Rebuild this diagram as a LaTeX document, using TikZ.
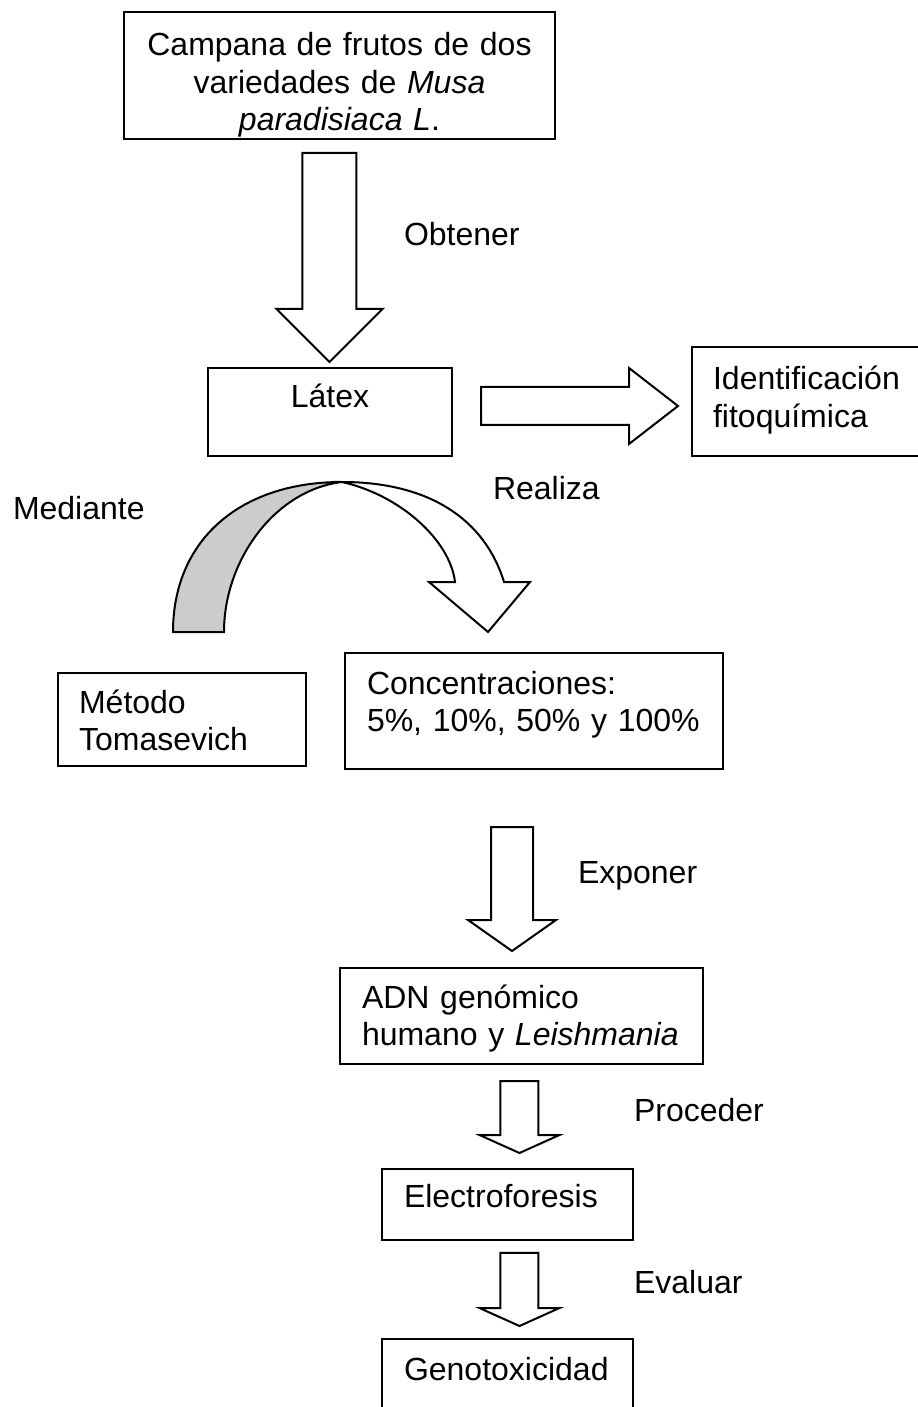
\documentclass[tikz,border=0pt]{standalone}
\usepackage{fontspec}
\setmainfont{Liberation Sans}
\usetikzlibrary{calc,
                positioning}

% hollow block arrow going down: top, tip, shaft half, head half, head length
\newcommand{\blockdown}[5]{%
    \path #1 coordinate (ba-top) #2 coordinate (ba-tip);
    \draw [blockarrow]
    ($(ba-top)+(-#3,0)$) -- ($(ba-top)+(#3,0)$)
    -- ($(ba-top |- ba-tip)+(#3,-#5)$) -- ($(ba-top |- ba-tip)+(#4,-#5)$)
    -- (ba-top |- ba-tip)
    -- ($(ba-top |- ba-tip)+(-#4,-#5)$) -- ($(ba-top |- ba-tip)+(-#3,-#5)$)
    -- cycle;}

\begin{document}
\begin{tikzpicture}[
            x = 0.375pt, y = -0.375pt,
            line width = 0.75pt,
            box/.style = {draw, anchor=north west, inner ysep=0pt, outer sep=0pt,
                    font=\fontsize{12pt}{14pt}\selectfont},
            lbox/.style = {box, align=left, inner xsep=8.25pt},
            cbox/.style = {box, align=center, inner xsep=0pt},
            tag/.style = {anchor=base west, inner sep=0pt,
                    font=\fontsize{12pt}{14pt}\selectfont},
            blockarrow/.style = {draw, fill=white, line join=miter},
            ribbon/.style = {draw, fill=black!20}]

        \useasboundingbox (0,0) rectangle (917,1407);

        \node [cbox, text width=161.6pt, text height=16.5pt, text depth=31.1pt]
              (cam) at (124,12) {Campana de frutos de dos\\ variedades de \textit{Musa}\\ \textit{paradisiaca L}.};
        \node [cbox, text width=91.5pt, text height=15pt, text depth=18pt]
              (lat) at (208,368) {Látex};
        \node [lbox, inner xsep=7.9pt, text width=81.7pt, text height=16.1pt, text depth=24.75pt]
              (idf) at (692,347) {Identificación\\ fitoquímica};
        \node [lbox, inner xsep=7.9pt, text width=77.2pt, text height=15pt, text depth=19.9pt]
              (met) at (58,673) {Método\\ Tomasevich};
        \node [lbox, text width=125.25pt, text height=15.4pt, text depth=28.1pt]
              (con) at (345,653) {Concentraciones:\\ \mbox{5\%, 10\%, 50\% y 100\%}};
        \node [lbox, text width=119.6pt, text height=15pt, text depth=21pt]
              (adn) at (340,968) {ADN genómico\\ \mbox{humano y \textit{Leishmania}}};
        \node [lbox, text width=77.6pt, text height=14.6pt, text depth=12pt]
              (ele) at (382,1169) {Electroforesis};
        \node [lbox, text width=77.6pt, text height=15.4pt, text depth=12pt]
              (gen) at (382,1339) {\mbox{Genotoxicidad}};

        % labels
        \node [tag] (obt) at (403,246)  {Obtener};
        \node [tag] (rea) at (492,500)  {Realiza};
        \node [tag] (med) at (12,520)   {Mediante};
        \node [tag] (exp) at (577,883)  {Exponer};
        \node [tag] (pro) at (633,1121) {Proceder};
        \node [tag] (eva) at (633,1293) {Evaluar};

        % block arrows
        \blockdown{($(cam.south)+(-10,14)$)}{($(lat.north)+(-1,-6)$)}{27}{53}{53}
        \blockdown{($(con.south)+(-22,58)$)}{($(adn.north)+(-10,-17)$)}{21}{44}{31}
        \blockdown{($(adn.south)+(-2,17)$)}{($(ele.north)+(12,-16)$)}{19}{40}{18}
        \blockdown{($(ele.south)+(12,13)$)}{($(gen.north)+(12,-13)$)}{19}{40}{18}

        \path ($(lat.east)+(29,-6)$) coordinate (ra-s)
              ($(idf.west)+(-14,0)$) coordinate (ra-t);
        \draw [blockarrow]
        ($(ra-s)+(0,-19)$) -- ($(ra-t |- ra-s)+(-49,-19)$)
        -- ($(ra-t |- ra-s)+(-49,-38)$) -- (ra-t |- ra-s)
        -- ($(ra-t |- ra-s)+(-49,38)$) -- ($(ra-t |- ra-s)+(-49,19)$)
        -- ($(ra-s)+(0,19)$) -- cycle;

        % curved arrow
        \draw [ribbon] (173,632) .. controls (173,540) and (240,482) .. (342,482)
        .. controls (275,490) and (224,560) .. (224,632) -- cycle;
        \draw [blockarrow] (342,482) .. controls (430,482) and (485,520) .. (504,582)
        -- (530,582) -- (488,632) -- (429,582) -- (455,582)
        .. controls (450,540) and (400,495) .. (342,482) -- cycle;
    \end{tikzpicture}
\end{document}
